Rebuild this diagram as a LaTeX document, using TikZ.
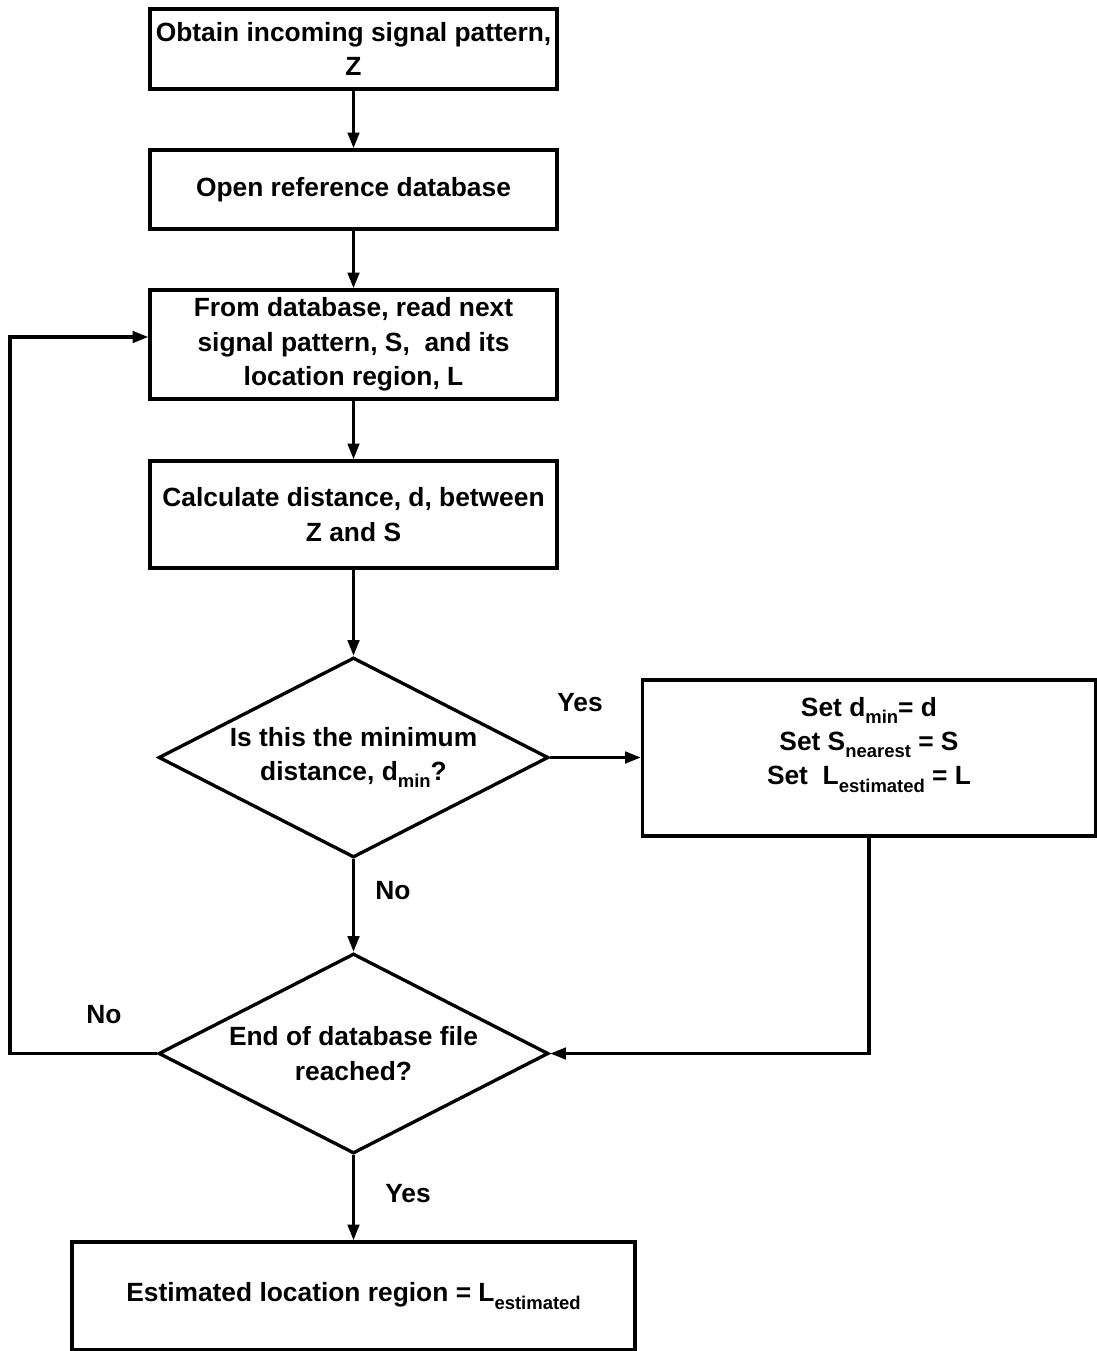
\documentclass[tikz,border=0pt]{standalone}
\usepackage{fontspec}
\setmainfont{Liberation Sans}
\usepackage{tikz}
\usetikzlibrary{shapes.geometric,arrows.meta}
\tikzset{>={Triangle[length=9pt,width=6.5pt]}}
\newcommand{\lowsub}[1]{\raisebox{-0.28em}{\fontsize{10.5}{12}\selectfont #1}}

\begin{document}
\begin{tikzpicture}[x=0.02cm, y=-0.02cm, line width=1.9pt,
        every node/.style={font=\fontsize{15}{19.5}\selectfont\bfseries},
        stepbox/.style={draw, rectangle, align=center, inner sep=0pt, minimum width=8.14cm},
        decision/.style={draw, diamond, aspect=1.93, align=center, inner sep=0pt, minimum width=7.8cm, minimum height=4.0cm}]

        % Page size
        \useasboundingbox (0,0) rectangle (1097,1351);

        % Boxes down the middle
        \node[stepbox, minimum height=1.6cm] (obtain) at (353.5,49) {Obtain incoming signal pattern,\\Z};
        \node[stepbox, minimum height=1.58cm] (open) at (353.5,189.5) {Open reference database};
        \node[stepbox, minimum height=2.18cm] (read) at (353.5,344.5) {From database, read next\\signal pattern, S,\ \ and its\\location region, L};
        \node[stepbox, minimum height=2.14cm] (calc) at (353.5,514.5) {Calculate distance, d, between\\Z and S};

        % Decisions
        \node[decision] (ismin) at (353.5,757.5) {Is this the minimum\\distance, d\lowsub{min}?};
        \node[decision] (isend) at (353.5,1053.5) {End of database file\\reached?};

        % Update box on the right
        \node[stepbox, minimum width=9.06cm, minimum height=3.12cm] (update) at (869,758)
            {Set d\lowsub{min}= d\\Set S\lowsub{nearest} = S\\Set\ \ L\lowsub{estimated} = L\\\mbox{}};

        % Result
        \node[stepbox, minimum width=11.26cm, minimum height=2.16cm] (result) at (353.5,1296)
            {Estimated location region = L\lowsub{estimated}};

        % Branch labels
        \node (yesmin) at (580,703) {Yes};
        \node (nomin) at (393,891) {No};
        \node (noend) at (104,1015) {No};
        \node (yesend) at (408,1194) {Yes};

        % Arrows
        \draw[->] (obtain) -- (open);
        \draw[->] (open) -- (read);
        \draw[->] (read) -- (calc);
        \draw[->] (calc) -- (ismin);
        \draw[->] (ismin.east) -- (update.west |- ismin.east);
        \draw[->] (ismin) -- (isend);
        \draw[->] (update.south) |- (isend.east);
        \draw[->] (isend) -- (result);

        % Loop back to the next record
        \coordinate (back) at (10,337);
        \draw[->] (isend.west) -| (back) -- (back -| read.west);

\end{tikzpicture}
\end{document}
